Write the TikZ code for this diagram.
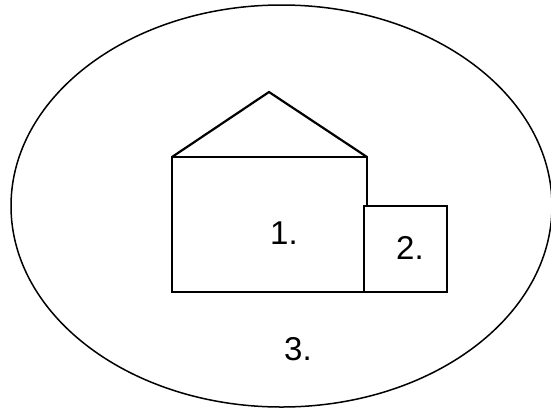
\documentclass[tikz,border=0pt]{standalone}
\usepackage{fontspec}
\setmainfont{Liberation Sans}
\begin{document}
\begin{tikzpicture}[x=1pt,y=-1pt,
  shape line/.style={draw=black,line width=2.2pt},
  oval line/.style={draw=black,line width=1.5pt},
  lbl/.style={font=\fontsize{33}{38}\selectfont,inner sep=0pt}]
\useasboundingbox (0,0) rectangle (551,408);
\draw[oval line] (281.5,206) ellipse [x radius=270.5, y radius=201];
\coordinate (bl) at (172,292);
\coordinate (tl) at (172,157);
\coordinate (tr) at (367,157);
\coordinate (apex) at (269,92);
\coordinate (rj) at (367,206);
\draw[shape line] (rj) -- (tr) -- (tl) -- (bl) -- (364,292);
\draw[shape line,line join=miter] (tl) -- (apex) -- (tr);
\draw[shape line] (364,206) rectangle (447,292);
\node[lbl] (one) at (284,233) {1.};
\node[lbl] (two) at (410,248) {2.};
\node[lbl] (three) at (298,349) {3.};
\end{tikzpicture}
\end{document}
